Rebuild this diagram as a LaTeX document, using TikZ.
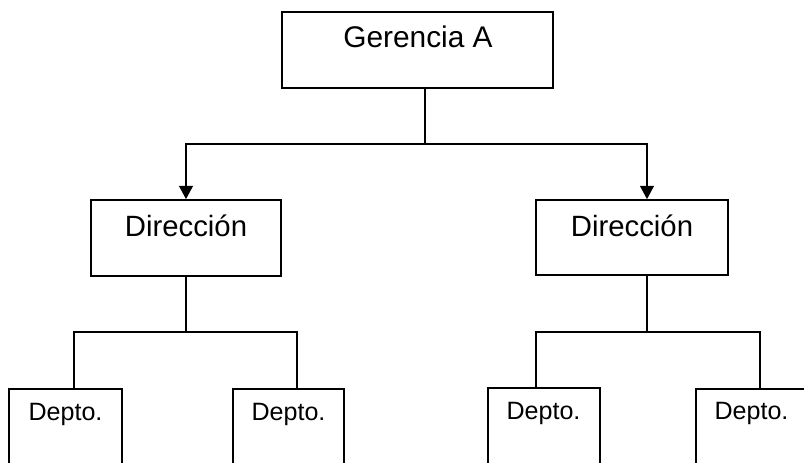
\documentclass[tikz,border=0pt]{standalone}
\usepackage{fontspec}
\setmainfont{Liberation Sans}
\usetikzlibrary{arrows.meta}
\begin{document}
\begin{tikzpicture}[x=0.75pt,y=-0.75pt,
  box/.style={draw=black,line width=1.3pt,rectangle,inner sep=0pt},
  lbl/.style={anchor=base,inner sep=0pt,text=black},
  conn/.style={draw=black,line width=0.9pt},
  arr/.style={conn,-{Triangle[length=10pt,width=10.5pt]}}]
\useasboundingbox (0,0) rectangle (804,463);
\clip (0,0) rectangle (804,463);
% boxes
\node[box,minimum width=271*0.75pt,minimum height=76*0.75pt] (ger) at (417.5,50) {};
\node[lbl,font=\fontsize{22.4}{26}\selectfont] (gerT) at (418,48) {Gerencia A};
\node[box,minimum width=190*0.75pt,minimum height=76*0.75pt] (dirL) at (186,238) {};
\node[lbl,font=\fontsize{22}{26}\selectfont] (dirLT) at (186,237) {Dirección};
\node[box,minimum width=192*0.75pt,minimum height=75*0.75pt] (dirR) at (632,237.5) {};
\node[lbl,font=\fontsize{22}{26}\selectfont] (dirRT) at (632,237) {Dirección};
\node[box,minimum width=113*0.75pt,minimum height=100*0.75pt] (d1) at (65.5,439) {};
\node[box,minimum width=111*0.75pt,minimum height=100*0.75pt] (d2) at (288.5,439) {};
\node[box,minimum width=112*0.75pt,minimum height=100*0.75pt] (d3) at (544,438) {};
\node[box,minimum width=120*0.75pt,minimum height=100*0.75pt,anchor=north west] (d4) at (695,388) {};
\node[lbl,font=\fontsize{18.8}{22}\selectfont] (d1T) at (65.5,421) {Depto.};
\node[lbl,font=\fontsize{18.8}{22}\selectfont] (d2T) at (288.5,421) {Depto.};
\node[lbl,font=\fontsize{18.8}{22}\selectfont] (d3T) at (543.5,420) {Depto.};
\node[lbl,font=\fontsize{18.8}{22}\selectfont] (d4T) at (751.5,420) {Depto.};
% junction coordinates
\coordinate (gOut) at (425,88);
\coordinate (gJ) at (425,144);
\coordinate (rIn) at (647,144);
\coordinate (lJ) at (186,332);
\coordinate (rOut) at (647,275);
\coordinate (rJ) at (647,332);
% connectors
\draw[arr] (gOut) -- (gJ) -| (dirL.north);
\draw[arr] (gJ) -- (rIn) -- (dirR.north -| rIn);
\draw[conn] (dirL.south) -- (lJ);
\draw[conn] (lJ) -| (d1.north -| 74,0);
\draw[conn] (lJ) -| (d2.north -| 297,0);
\draw[conn] (rOut) -- (rJ);
\draw[conn] (rJ) -| (d3.north -| 536,0);
\draw[conn] (rJ) -| (d4.north -| 760,0);
\end{tikzpicture}
\end{document}
